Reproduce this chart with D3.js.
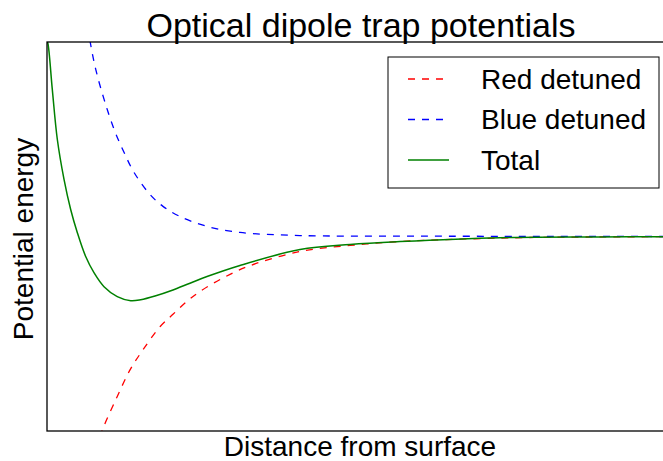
<!DOCTYPE html>
<meta charset="utf-8">
<style>
body { margin: 0; background: #fff; }
text { font-family: "Liberation Sans", Arial, Helvetica, sans-serif; fill: #000; }
.line { fill: none; }
.frame { fill: none; stroke: #000; stroke-width: 1.3px; }
</style>
<div id="chart"></div>
<script src="https://cdn.jsdelivr.net/npm/d3@7"></script>
<script>
// values (distance, potential), asymptote at 0
var redX   = [0.78, 0.876, 1.115, 1.322, 1.529, 1.799, 2.006, 2.229, 2.436, 2.803, 3.232, 4.029, 4.825, 5.621, 7.213, 8.806, 10];
var redY   = [-1.1, -1.0, -0.825, -0.686, -0.582, -0.464, -0.400, -0.333, -0.283, -0.213, -0.150, -0.077, -0.046, -0.026, -0.008, -0.002, -0.001];
var blueX  = [0.65, 0.685, 0.775, 0.908, 1.067, 1.226, 1.385, 1.640, 1.847, 2.118, 2.548, 3.073, 4.029, 5.621, 7.213, 10];
var blueY  = [1.08, 1.005, 0.861, 0.706, 0.552, 0.433, 0.330, 0.216, 0.155, 0.103, 0.052, 0.021, 0.005, 0.002, 0.001, 0];
var totalX = [0, 0.016, 0.084, 0.164, 0.271, 0.377, 0.482, 0.616, 0.748, 0.908, 1.119, 1.333, 1.492, 1.720, 2.006, 2.277, 2.548, 3.073, 4.029, 4.825, 5.621, 7.213, 8.806, 10];
var totalY = [1.005, 0.990, 0.758, 0.500, 0.294, 0.139, 0.021, -0.103, -0.186, -0.258, -0.309, -0.330, -0.325, -0.306, -0.275, -0.240, -0.206, -0.149, -0.067, -0.041, -0.026, -0.006, -0.002, -0.001];

var seriesNames = ["Red detuned", "Blue detuned", "Total"];
var seriesColors = ["#ff0000", "#0000ff", "#008000"];
var seriesDash = ["7,7", "7,7", null];

var W = 663, H = 461;
var margin = {top: 42, right: -12, bottom: 30, left: 47};
var width = W - margin.left - margin.right,
    height = H - margin.top - margin.bottom;

var svg = d3.select("#chart").append("svg")
    .attr("width", W)
    .attr("height", H);

var g = svg.append("g")
    .attr("transform", "translate(" + margin.left + "," + margin.top + ")");

var x = d3.scaleLinear().domain([0, 10]).range([0, width]);
var y = d3.scaleLinear().domain([-1, 1]).range([height, 0]);

svg.append("defs").append("clipPath").attr("id", "clip")
  .append("rect").attr("width", width).attr("height", height);

var line = d3.line()
    .x(function(d) { return x(d[0]); })
    .y(function(d) { return y(d[1]); })
    .curve(d3.curveCatmullRom.alpha(0.5));

var series = [d3.zip(redX, redY), d3.zip(blueX, blueY), d3.zip(totalX, totalY)];

var plot = g.append("g").attr("clip-path", "url(#clip)");
series.forEach(function(s, i) {
  plot.append("path")
      .datum(s)
      .attr("class", "line")
      .attr("d", line)
      .attr("stroke", seriesColors[i])
      .attr("stroke-width", i == 2 ? 1.5 : 1.3)
      .attr("stroke-dasharray", seriesDash[i]);
});

g.append("rect")
    .attr("class", "frame")
    .attr("width", width)
    .attr("height", height);

// title and axis labels
svg.append("text")
    .attr("x", 361).attr("y", 37)
    .attr("text-anchor", "middle")
    .style("font-size", "34px")
    .text("Optical dipole trap potentials");

svg.append("text")
    .attr("x", 360).attr("y", 456)
    .attr("text-anchor", "middle")
    .style("font-size", "28px")
    .text("Distance from surface");

svg.append("text")
    .attr("text-anchor", "middle")
    .attr("transform", "translate(33,239)rotate(-90)")
    .style("font-size", "28px")
    .text("Potential energy");

// legend
var legend = svg.append("g").attr("transform", "translate(388,57)");
legend.append("rect")
    .attr("width", 271).attr("height", 131)
    .attr("fill", "#fff")
    .attr("stroke", "#000")
    .attr("stroke-width", 1);

seriesNames.forEach(function(name, i) {
  var yy = 22 + i * 40.5;
  legend.append("line")
      .attr("x1", 20).attr("x2", 61)
      .attr("y1", yy).attr("y2", yy)
      .attr("stroke", seriesColors[i])
      .attr("stroke-width", i == 2 ? 1.5 : 1.3)
      .attr("stroke-dasharray", seriesDash[i]);
  legend.append("text")
      .attr("x", 93).attr("y", yy + 9.5)
      .style("font-size", "28px")
      .text(name);
});
</script>
